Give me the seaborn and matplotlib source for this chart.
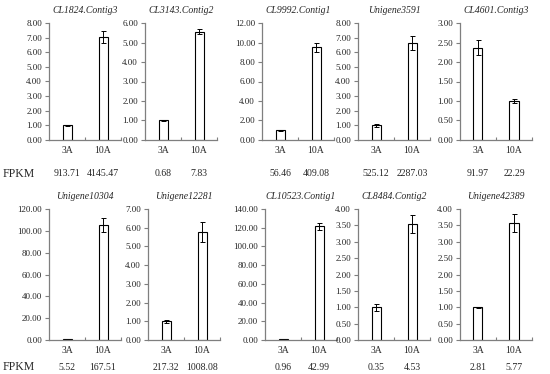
import matplotlib
matplotlib.use("Agg")
import matplotlib.pyplot as plt
import seaborn as sns
import numpy as np
from matplotlib.ticker import FormatStrFormatter, MultipleLocator
import matplotlib.transforms as mtransforms

sns.set_theme(style="white")
plt.rcParams['font.family'] = ['Liberation Serif', 'DejaVu Serif']

#Data
groups = ['3A', '10A']
genes = ['CL1824.Contig3', 'CL3143.Contig2', 'CL9992.Contig1', 'Unigene3591', 'CL4601.Contig3',
         'Unigene10304', 'Unigene12281', 'CL10523.Contig1', 'CL8484.Contig2', 'Unigene42389']
expr = [[1.00, 7.02], [1.00, 5.56], [1.00, 9.52], [1.00, 6.65], [2.37, 1.00],
        [0.80, 105.0], [1.00, 5.78], [1.00, 121.5], [1.00, 3.55], [1.00, 3.58]]
errs = [[0.03, 0.42], [0.04, 0.12], [0.05, 0.45], [0.08, 0.48], [0.20, 0.05],
        [0.10, 6.5], [0.07, 0.55], [0.10, 4.0], [0.10, 0.27], [0.02, 0.27]]
fpkm = [['913.71', '4145.47'], ['0.68', '7.83'], ['56.46', '409.08'], ['525.12', '2287.03'], ['91.97', '22.29'],
        ['5.52', '167.51'], ['217.32', '1008.08'], ['0.96', '42.99'], ['0.35', '4.53'], ['2.81', '5.77']]
ymax = [8, 6, 12, 8, 3, 120, 7, 140, 4, 4]
ystep = [1, 1, 2, 1, 0.5, 20, 1, 20, 0.5, 0.5]

#Layout in pixels
W, H = 550, 374
lefts = [49, 145, 262, 358, 460, 49, 148, 265, 358, 460]
axw = 72
rows = [(23, 140), (209, 340)]

fig = plt.figure(figsize=(5.5, 3.74), dpi=100)
spine_col = '#7f7f7f'

for i in range(10):
    top, bot = rows[i // 5]
    ax = fig.add_axes([lefts[i] / W, 1 - bot / H, axw / W, (bot - top) / H])
    sns.barplot(x=groups, y=expr[i], ax=ax, color='white', edgecolor='black',
                linewidth=0.8, width=0.25, saturation=1)
    ax.errorbar([0, 1], expr[i], yerr=errs[i], fmt='none', ecolor='black',
                elinewidth=0.7, capsize=1.8, capthick=0.7)
    ax.set_xlim(-0.5, 1.5)
    ax.set_ylim(0, ymax[i])
    ax.yaxis.set_major_locator(MultipleLocator(ystep[i]))
    ax.yaxis.set_major_formatter(FormatStrFormatter('%.2f'))
    sns.despine(ax=ax)
    for s in ['left', 'bottom']:
        ax.spines[s].set_color(spine_col)
        ax.spines[s].set_linewidth(0.9)
    ax.tick_params(axis='y', direction='out', length=3, width=0.8, color=spine_col,
                   labelsize=6.5, pad=2, left=True)
    ax.tick_params(axis='x', which='major', length=0, labelsize=7, pad=4)
    ax.set_xticks([0.5, 1.5], minor=True)
    ax.tick_params(axis='x', which='minor', direction='in', length=2.5, width=0.8,
                   color=spine_col, bottom=True)
    ax.set_xlabel('')
    ax.set_ylabel('')
    ax.set_title(genes[i], fontsize=7, style='italic', pad=7)
    trans = mtransforms.blended_transform_factory(ax.transData, ax.transAxes)
    off = 34 if i < 5 else 27
    for j in range(2):
        ax.text(j, -off / (bot - top), fpkm[i][j], transform=trans, ha='center',
                va='center', fontsize=7)

fig.text(3 / W, 1 - 174 / H, 'FPKM', fontsize=8.5, va='center', ha='left')
fig.text(3 / W, 1 - 367 / H, 'FPKM', fontsize=8.5, va='center', ha='left')

fig.savefig('out.png', dpi=100)
